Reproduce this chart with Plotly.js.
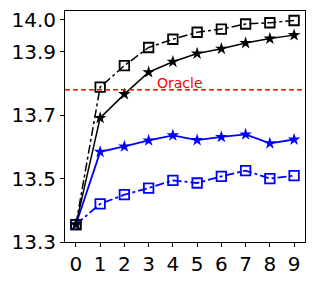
<!DOCTYPE html>
<html><head><meta charset="utf-8">
<script src="https://cdn.plot.ly/plotly-3.0.1.min.js"></script>
<style>html,body{margin:0;padding:0;background:#fff}#c{width:316px;height:281px}</style>
</head><body><div id="c"></div>
<script>
const steps = [0,1,2,3,4,5,6,7,8,9];
const blackSquare = [13.355,13.788,13.856,13.913,13.939,13.961,13.971,13.987,13.991,13.998];
const blackStar = [13.355,13.691,13.766,13.835,13.868,13.894,13.909,13.927,13.941,13.952];
const blueStar = [13.355,13.584,13.601,13.620,13.636,13.621,13.631,13.639,13.611,13.623];
const blueSquare = [13.355,13.420,13.449,13.470,13.494,13.486,13.507,13.525,13.500,13.509];
const oracle = 13.78;
const yTicks = [13.3,13.5,13.7,13.9,14.0];
const yTickText = ['13.3','13.5','13.7','13.9','14.0'];

const traces = [
  {x: steps, y: blueSquare, mode:'lines+markers', line:{color:'#0000ff', width:1.8, dash:'dashdot'},
   marker:{symbol:'square-open', size:9.5, color:'#0000ff', line:{width:1.8, color:'#0000ff'}}},
  {x: steps, y: blueStar, mode:'lines+markers', line:{color:'#0000ff', width:1.8},
   marker:{symbol:'star', size:9.5, color:'#0000ff'}},
  {x: steps, y: blackSquare, mode:'lines+markers', line:{color:'#000', width:1.5, dash:'dashdot'},
   marker:{symbol:'square-open', size:9.5, color:'#000', line:{width:1.8, color:'#000'}}},
  {x: steps, y: blackStar, mode:'lines+markers', line:{color:'#000', width:1.5},
   marker:{symbol:'star', size:9.5, color:'#000'}}
];

const layout = {
  width:316, height:281,
  margin:{l:65, r:11, t:11, b:39},
  paper_bgcolor:'#fff', plot_bgcolor:'#fff',
  showlegend:false,
  font:{family:'DejaVu Sans', color:'#000'},
  xaxis:{range:[-0.45,9.45], tickvals:steps, ticks:'outside', ticklen:4, tickcolor:'#000',
    showgrid:false, zeroline:false, showline:true, linecolor:'#000', linewidth:1, mirror:true,
    tickfont:{size:20, family:'DejaVu Sans', color:'#000'}},
  yaxis:{range:[13.3,14.028], tickvals:yTicks, ticktext:yTickText, ticks:'outside', ticklen:4, tickcolor:'#000',
    showgrid:false, zeroline:false, showline:true, linecolor:'#000', linewidth:1, mirror:true,
    tickfont:{size:20, family:'DejaVu Sans', color:'#000'}},
  shapes:[{type:'line', xref:'paper', x0:0, x1:1, yref:'y', y0:oracle, y1:oracle,
    line:{color:'#ff0000', width:1.5, dash:'5px,3px'}}],
  annotations:[{x:4.3, y:oracle, xref:'x', yref:'y', text:'Oracle', showarrow:false,
    yanchor:'bottom', yshift:-3, font:{size:14, color:'#ff0000', family:'DejaVu Sans'}}]
};
Plotly.newPlot('c', traces, layout, {displayModeBar:false, staticPlot:true});
</script></body></html>
